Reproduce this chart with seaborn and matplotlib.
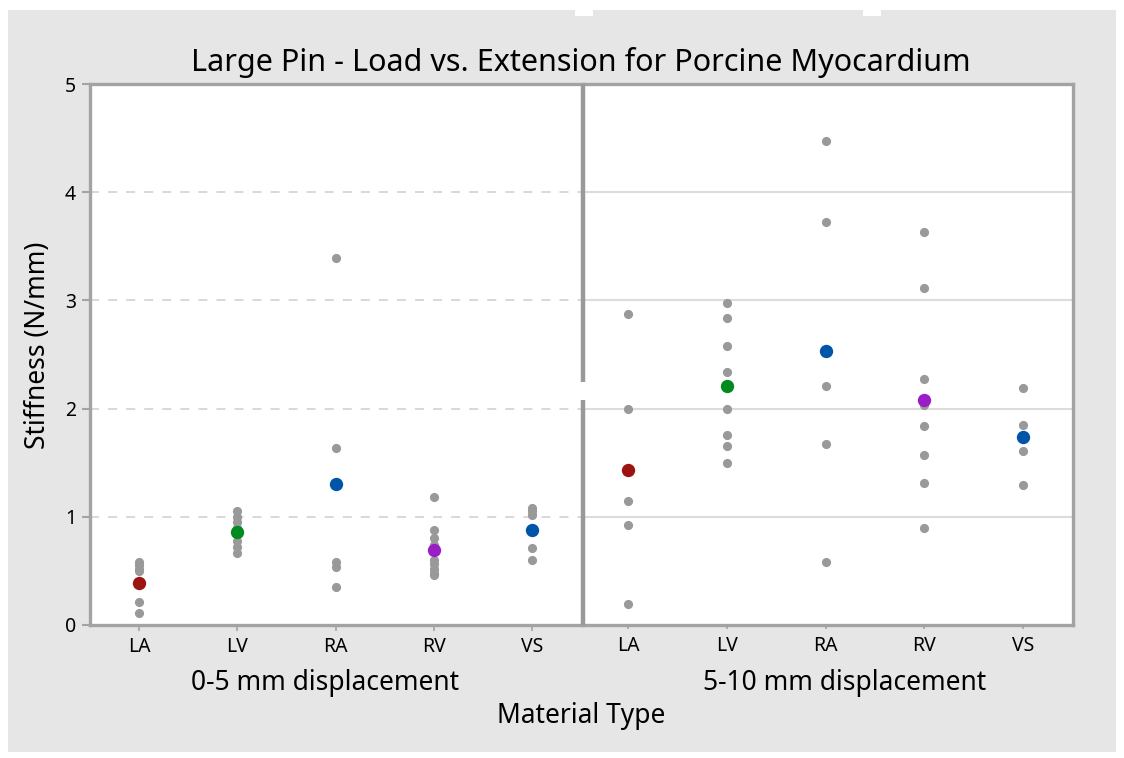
import matplotlib
matplotlib.use("Agg")
import matplotlib.pyplot as plt
from matplotlib.patches import Rectangle
from matplotlib.lines import Line2D
import numpy as np
import pandas as pd
import seaborn as sns

# ---- data -------------------------------------------------------------
tissues = ["LA", "LV", "RA", "RV", "VS"]
ranges = ["0-5 mm displacement", "5-10 mm displacement"]

stiff_0_5 = {
    "LA": [0.58, 0.55, 0.52, 0.50, 0.21, 0.11],
    "LV": [1.05, 1.00, 0.95, 0.90, 0.84, 0.78, 0.72, 0.67],
    "RA": [3.39, 1.64, 0.58, 0.54, 0.35],
    "RV": [1.18, 0.88, 0.80, 0.74, 0.60, 0.56, 0.52, 0.48, 0.46],
    "VS": [1.08, 1.05, 1.02, 0.71, 0.60],
}
stiff_5_10 = {
    "LA": [2.87, 2.00, 1.15, 0.92, 0.19],
    "LV": [2.98, 2.84, 2.58, 2.34, 2.00, 1.76, 1.65, 1.50],
    "RA": [4.47, 3.72, 2.21, 1.67, 0.58],
    "RV": [3.63, 3.11, 2.27, 2.03, 1.84, 1.57, 1.31, 0.90],
    "VS": [2.19, 1.85, 1.61, 1.29],
}
mean_0_5 = [0.39, 0.86, 1.30, 0.69, 0.88]
mean_5_10 = [1.43, 2.21, 2.53, 2.08, 1.74]

y_ticks = [0, 1, 2, 3, 4, 5]

mean_colors = {"LA": "#9c1412", "LV": "#008a20", "RA": "#0055a8", "RV": "#9a1ec6", "VS": "#0055a8"}

# ---- long-form tables ---------------------------------------------------
def to_frame(values):
    rows = [(t, v) for t in tissues for v in values[t]]
    return pd.DataFrame(rows, columns=["tissue", "stiffness"])

points = [to_frame(stiff_0_5), to_frame(stiff_5_10)]
means = [pd.DataFrame({"tissue": tissues, "stiffness": mean_0_5}),
         pd.DataFrame({"tissue": tissues, "stiffness": mean_5_10})]

# ---- figure -----------------------------------------------------------
sns.set_theme(style="white")
plt.rcParams["font.family"] = ["Noto Sans", "DejaVu Sans"]

W, H = 1124, 758
fig = plt.figure(figsize=(W / 100, H / 100), dpi=100, facecolor="white")
fig.patches.append(Rectangle((8 / W, 1 - 752 / H), 1108 / W, 742 / H,
                             transform=fig.transFigure, facecolor="#e6e6e6",
                             edgecolor="none", zorder=-10))
for nx in (575, 863):
    fig.patches.append(Rectangle((nx / W, 1 - 16 / H), 18 / W, 8 / H,
                                 transform=fig.transFigure, facecolor="white",
                                 edgecolor="none", zorder=-9))

spine_col = "#a3a3a3"
bottom = 1 - 625 / H
height = (625 - 84) / H
ax_l = fig.add_axes([90 / W, bottom, (583 - 90) / W, height])
ax_r = fig.add_axes([583 / W, bottom, (1073 - 583) / W, height])

xlims = [(-0.5, 4.52), (-0.456, 4.506)]
grid_styles = [dict(ls=(0, (5, 5)), lw=1.3, color="#d6d6d6"),
               dict(ls="-", lw=1.5, color="#dcdcdc")]

for i, ax in enumerate((ax_l, ax_r)):
    ax.set_facecolor("white")
    for yv in y_ticks[1:-1]:
        ax.axhline(yv, zorder=0, **grid_styles[i])
    sns.stripplot(data=points[i], x="tissue", y="stiffness", order=tissues,
                  jitter=False, color="#999999", size=6.6, linewidth=0,
                  ax=ax, zorder=3)
    sns.stripplot(data=means[i], x="tissue", y="stiffness", order=tissues,
                  hue="tissue", palette=mean_colors, jitter=False, size=9.6,
                  linewidth=0, legend=False, ax=ax, zorder=4)
    ax.set_xlim(*xlims[i])
    ax.set_ylim(y_ticks[0], y_ticks[-1])
    ax.set_xlabel("")
    ax.set_ylabel("")
    ax.tick_params(axis="x", labelsize=14, colors=spine_col, labelcolor="black",
                   length=4, width=1.2, pad=5, bottom=True)
    for s in ax.spines.values():
        s.set_color(spine_col)
        s.set_linewidth(2.4)

ax_l.set_yticks(y_ticks)
ax_l.tick_params(axis="y", labelsize=14, colors=spine_col, labelcolor="black",
                 length=6, width=1.5, pad=4, left=True)
ax_l.spines["right"].set_visible(False)
ax_r.spines["left"].set_visible(False)
ax_r.set_yticks(y_ticks)
ax_r.tick_params(axis="y", left=False, labelleft=False)
ax_r.tick_params(axis="x", length=3)

# divider between the two displacement ranges, with a break
div_x = 583 / W
for y0, y1 in ((84, 382), (400, 625)):
    fig.add_artist(Line2D([div_x, div_x], [1 - y0 / H, 1 - y1 / H],
                          transform=fig.transFigure, color="#999999", lw=3.2,
                          solid_capstyle="butt", zorder=10))

# ---- text -------------------------------------------------------------
fig.text(581 / W, 1 - 62 / H, "Large Pin - Load vs. Extension for Porcine Myocardium",
         ha="center", va="center", fontsize=22, color="black")
fig.text(325 / W, 1 - 683 / H, ranges[0], ha="center", va="center",
         fontsize=19, color="black")
fig.text(845 / W, 1 - 683 / H, ranges[1], ha="center", va="center",
         fontsize=19, color="black")
fig.text(581 / W, 1 - 716 / H, "Material Type", ha="center", va="center",
         fontsize=19, color="black")
fig.text(38 / W, 1 - 345 / H, "Stiffness (N/mm)", ha="center", va="center",
         rotation=90, fontsize=19, color="black")

fig.savefig("out.png", dpi=100, facecolor=fig.get_facecolor())
